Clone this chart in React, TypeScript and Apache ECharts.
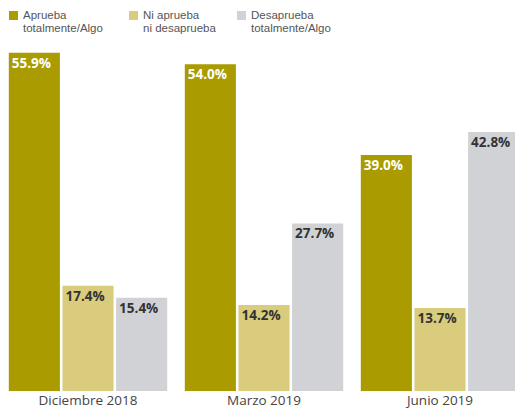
import React, { useEffect, useRef } from "react";
import * as echarts from "echarts";

const categories = ["Diciembre 2018", "Marzo 2019", "Junio 2019"];
const seriesNames = ["Aprueba totalmente/Algo", "Ni aprueba ni desaprueba", "Desaprueba totalmente/Algo"];
const legendLabels = ["Aprueba\ntotalmente/Algo", "Ni aprueba\nni desaprueba", "Desaprueba\ntotalmente/Algo"];
const aprueba = [55.9, 54.0, 39.0];
const niAprueba = [17.4, 14.2, 13.7];
const desaprueba = [15.4, 27.7, 42.8];

const colors = ["#A99B00", "#D9CC7D", "#D1D2D6"];
const labelColors = ["#ffffff", "#333333", "#333333"];
const legendLefts = [9, 129, 237];
const FONT = "'Open Sans', sans-serif";
const LEGEND_FONT = "'Liberation Sans', sans-serif";

export default function App() {
  const ref = useRef<HTMLDivElement>(null);
  useEffect(() => {
    if (!ref.current) return;
    const chart = echarts.init(ref.current, null, { renderer: "svg" });
    const values = [aprueba, niAprueba, desaprueba];
    const legendGraphics: any[] = [];
    seriesNames.forEach((n, i) => {
      legendGraphics.push({
        type: "rect",
        shape: { x: legendLefts[i], y: 11, width: 9, height: 9 },
        style: { fill: colors[i] },
      });
      legendLabels[i].split("\n").forEach((line, j) => {
        legendGraphics.push({
          type: "text",
          x: legendLefts[i] + 14,
          y: 9 + j * 13,
          style: {
            text: line,
            fontFamily: LEGEND_FONT,
            fontSize: 11.5,
            lineHeight: 12,
            fill: "#555555",
            verticalAlign: "top",
            align: "left",
          },
        });
      });
    });
    chart.setOption({
      animation: false,
      backgroundColor: "#ffffff",
      textStyle: { fontFamily: FONT },
      graphic: legendGraphics,
      grid: { left: 0, width: 528, top: 28, bottom: 19, containLabel: false, outerBoundsMode: "none" },
      xAxis: {
        type: "category",
        data: categories,
        axisLine: { show: false },
        axisTick: { show: false },
        axisLabel: { fontFamily: FONT, fontSize: 13.5, color: "#444444", margin: 2 },
      },
      yAxis: { type: "value", min: 0, max: 60, show: false, splitLine: { show: false } },
      series: seriesNames.map((n, i) => ({
        name: n,
        type: "bar",
        data: values[i],
        barCategoryGap: "10%",
        barGap: "5%",
        itemStyle: { color: colors[i] },
        label: {
          show: true,
          position: "insideTopLeft",
          distance: 3,
          formatter: (p: any) => p.value.toFixed(1) + "%",
          fontFamily: FONT,
          fontWeight: "bold",
          fontSize: 13.5,
          color: labelColors[i],
        },
      })),
    });
    return () => chart.dispose();
  }, []);
  return <div ref={ref} style={{ position: "fixed", left: 0, top: 0, width: 515, height: 410 }} />;
}
